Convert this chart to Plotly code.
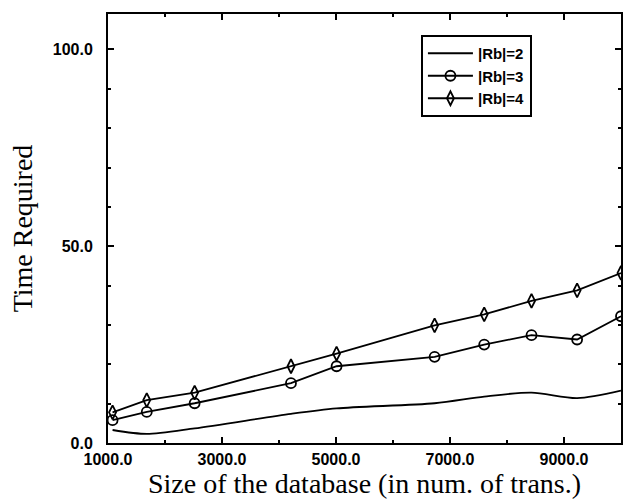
import plotly.graph_objects as go

x_vals = [1080, 1680, 2520, 4210, 5010, 6730, 7600, 8430, 9230, 10000]
rb2 = [3.3, 2.3, 3.7, 7.4, 8.8, 10.1, 11.8, 12.8, 11.4, 13.3]
rb3 = [5.8, 7.9, 10.1, 15.2, 19.5, 21.9, 25.0, 27.4, 26.3, 32.2]
rb4 = [7.8, 10.9, 12.8, 19.5, 22.7, 29.9, 32.7, 36.1, 38.8, 43.2]
names = ["|Rb|=2", "|Rb|=3", "|Rb|=4"]

fig = go.Figure()
fig.add_trace(go.Scatter(x=x_vals, y=rb2, name=names[0], mode="lines",
                         line=dict(color="black", width=1.8, shape="spline", smoothing=0.8)))
fig.add_trace(go.Scatter(x=x_vals, y=rb3, name=names[1], mode="lines+markers",
                         line=dict(color="black", width=1.8),
                         marker=dict(symbol="circle-open", size=10, color="black",
                                     line=dict(width=1.8))))
fig.add_trace(go.Scatter(x=x_vals, y=rb4, name=names[2], mode="lines+markers",
                         line=dict(color="black", width=1.8),
                         marker=dict(symbol="diamond-tall-open", size=10, color="black",
                                     line=dict(width=1.8))))

tickfont = dict(family="Liberation Sans", size=16, color="black", weight="bold")
fig.update_layout(
    width=625, height=499,
    margin=dict(l=108, r=2, t=14, b=56),
    paper_bgcolor="white", plot_bgcolor="white",
    showlegend=True,
    legend=dict(x=0.61, y=0.951, xanchor="left", yanchor="top",
                bordercolor="black", borderwidth=2, bgcolor="white",
                font=dict(family="Liberation Sans", size=15, color="black", weight="bold"),
                itemwidth=45, tracegroupgap=0),
    xaxis=dict(range=[1000, 10000], tick0=1000, dtick=2000, tickformat=".1f",
               showgrid=False, zeroline=False, showline=True, linecolor="black", linewidth=2,
               mirror="allticks", ticks="inside", ticklen=6, tickcolor="black", tickwidth=1.5,
               minor=dict(dtick=1000, tick0=1000, ticks="inside", ticklen=3, tickcolor="black", showgrid=False),
               tickfont=tickfont, ticklabelstandoff=1,
               title=dict(text="Size of the database (in num. of trans.)", standoff=0,
                          font=dict(family="Liberation Serif", size=28, color="black"))),
    yaxis=dict(range=[0, 109], tick0=0, dtick=50, tickformat=".1f",
               showgrid=False, zeroline=False, showline=True, linecolor="black", linewidth=2,
               mirror="allticks", ticks="inside", ticklen=6, tickcolor="black", tickwidth=1.5,
               minor=dict(dtick=10, ticks="inside", ticklen=3, tickcolor="black", showgrid=False),
               tickfont=tickfont, ticklabelstandoff=10,
               title=dict(text="Time Required", standoff=12,
                          font=dict(family="Liberation Serif", size=28, color="black"))),
)

fig.write_html("out.html")
